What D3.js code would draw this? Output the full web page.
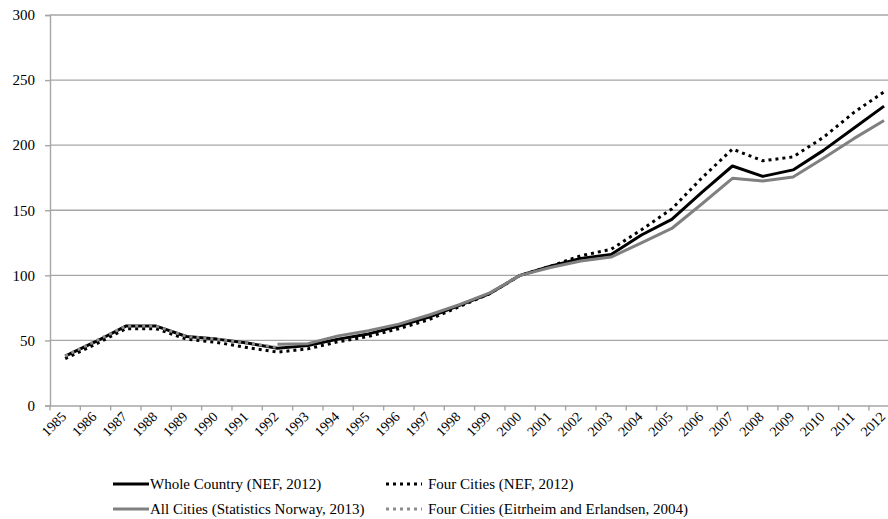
<!DOCTYPE html>
<html><head><meta charset="utf-8">
<script src="https://cdn.jsdelivr.net/npm/d3@7"></script>
<style>body{margin:0;background:#fff;}</style>
</head><body>
<svg id="c" width="888" height="519"></svg>
<script>
const years = d3.range(1985, 2013);
const wholeCountry = [38, 49, 61, 61, 53, 51, 48, 44, 46, 51, 55, 61, 68, 77, 86, 100, 107, 113, 116, 131, 143, 164, 184, 176, 181, 196, 213, 230];
const fourCitiesNEF = [36, 47, 59, 59, 51, 48.5, 44.5, 41, 43.5, 49, 53, 59, 66, 76, 86, 100, 107, 115, 120, 135, 151, 175, 197, 188, 191, 206, 225, 241];
const allCities = [null, null, null, null, null, null, null, 47, 47.5, 53.5, 57.5, 62.5, 69.5, 77.5, 86.5, 100, 106, 111, 114, 125, 136, 155, 174.5, 172.5, 175.5, 190, 205, 219];
const fourCitiesEE = [38, 49.5, 61, 61, 53, 51, 48, 44.5, null, null, null, null, null, null, null, null, null, null, null, null, null, null, null, null, null, null, null, null];
const yTicks = [0, 50, 100, 150, 200, 250, 300];
const seriesNames = ["Whole Country (NEF, 2012)", "Four Cities (NEF, 2012)", "All Cities (Statistics Norway, 2013)", "Four Cities (Eitrheim and Erlandsen, 2004)"];

const svg = d3.select("#c");
const x = d3.scaleBand().domain(years).range([50, 50 + 28 * 30.33]);
const y = d3.scaleLinear().domain([0, 300]).range([405.5, 15]);
const cx = d => x(d) + x.bandwidth() / 2;
const gridCol = "#a6a6a6";
const FONT = "Liberation Serif";

// gridlines
svg.append("g").selectAll("line").data(yTicks.slice(1)).join("line")
  .attr("x1", 50).attr("x2", 888).attr("y1", d => y(d)).attr("y2", d => y(d))
  .attr("stroke", gridCol).attr("stroke-width", 1.4);

// y axis
const ya = svg.append("g").attr("transform", "translate(50,0)")
  .call(d3.axisLeft(y).tickValues(yTicks).tickSize(5).tickPadding(10));
ya.attr("font-family", null);
ya.select(".domain").attr("stroke", gridCol).attr("stroke-width", 1.4);
ya.selectAll(".tick line").attr("stroke", gridCol).attr("stroke-width", 1.4);
ya.selectAll("text").attr("font-family", FONT).attr("font-size", 15).attr("fill", "#000");

// x axis
const xa = svg.append("g").attr("transform", "translate(0," + y(0) + ")")
  .call(d3.axisBottom(x).tickSize(0).tickPadding(0));
xa.attr("font-family", null);
xa.select(".domain").attr("stroke", gridCol).attr("stroke-width", 1.4);
xa.selectAll(".tick text").attr("font-family", FONT).attr("font-size", 14).attr("fill", "#000")
  .attr("text-anchor", "end").attr("dy", "0").attr("y", 0)
  .attr("transform", "translate(2,12) rotate(-45)");
svg.append("g").selectAll("line").data(years.map(d => x(d)).concat([x(2012) + x.bandwidth()])).join("line")
  .attr("x1", d => d).attr("x2", d => d).attr("y1", y(0)).attr("y2", y(0) + 5)
  .attr("stroke", gridCol).attr("stroke-width", 1.4);

const line = vals => d3.line().defined((d, i) => vals[i] != null)
  .x((d, i) => cx(years[i])).y((d, i) => y(vals[i]))(vals);

const styles = [
  {vals: wholeCountry, color: "#000", dash: null, w: 3},
  {vals: fourCitiesNEF, color: "#000", dash: "3,4", w: 3},
  {vals: allCities, color: "#808080", dash: null, w: 3},
  {vals: fourCitiesEE, color: "#8c8c8c", dash: "3,4", w: 3}
];
styles.forEach(s => {
  svg.append("path").attr("d", line(s.vals)).attr("fill", "none")
    .attr("stroke", s.color).attr("stroke-width", s.w)
    .attr("stroke-dasharray", s.dash).attr("stroke-linejoin", "round");
});

// legend
const legPos = [[113, 484], [386, 484], [113, 509], [386, 509]];
const legend = svg.append("g");
styles.forEach((s, i) => {
  const [lx, ly] = legPos[i];
  legend.append("line").attr("x1", lx).attr("x2", lx + 36).attr("y1", ly).attr("y2", ly)
    .attr("stroke", s.color).attr("stroke-width", s.w).attr("stroke-dasharray", s.dash);
  legend.append("text").attr("x", lx + (s.dash ? 42 : 37)).attr("y", ly).attr("dy", "0.35em")
    .attr("font-family", FONT).attr("font-size", 15).text(seriesNames[i]);
});
</script>
</body></html>
